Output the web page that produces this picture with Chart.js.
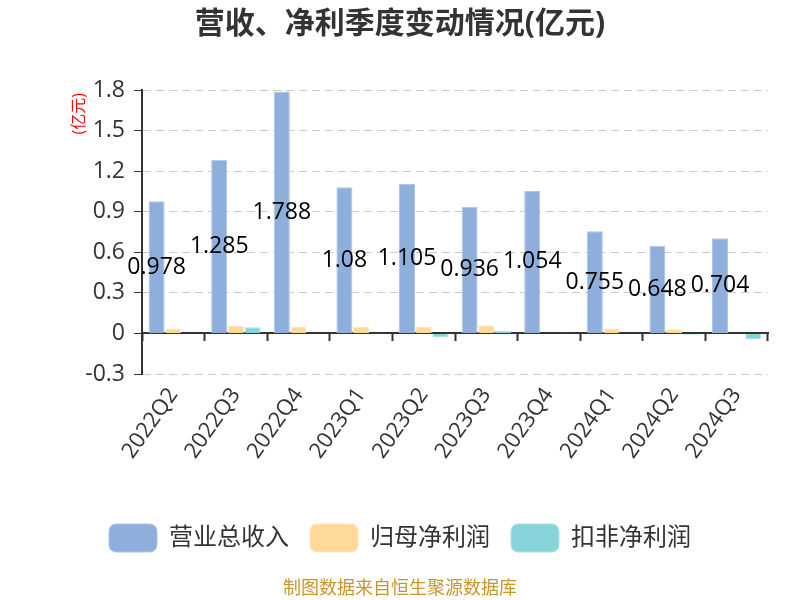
<!DOCTYPE html>
<html>
<head>
<meta charset="utf-8">
<script src="https://cdn.jsdelivr.net/npm/chart.js@4/dist/chart.umd.min.js"></script>
<style>
  html, body { margin: 0; padding: 0; background: #fff; }
  #wrap { width: 800px; height: 600px; }
</style>
</head>
<body>
<div id="wrap"><canvas id="QUARTER"></canvas></div>
<script>
var quarters = ["2022Q2", "2022Q3", "2022Q4", "2023Q1", "2023Q2", "2023Q3", "2023Q4", "2024Q1", "2024Q2", "2024Q3"];
var revenue = [0.978, 1.285, 1.788, 1.08, 1.105, 0.936, 1.054, 0.755, 0.648, 0.704];
var netProfit = [0.037, 0.058, 0.05, 0.05, 0.05, 0.06, 0.004, 0.037, 0.03, -0.005];
var deductedProfit = [-0.005, 0.045, 0.003, 0.001, -0.03, 0.02, 0.005, 0.003, -0.01, -0.045];
var yTicks = [-0.3, 0, 0.3, 0.6, 0.9, 1.2, 1.5, 1.8];

var fontFamily = "'Open Sans', 'Noto Sans CJK SC', sans-serif";

// labels in the middle of the revenue bars, plus unit + footer text
var extraText = {
    id: 'extraText',
    afterDatasetsDraw: function (chart) {
        var ctx = chart.ctx;
        var meta = chart.getDatasetMeta(0);
        ctx.save();
        ctx.font = "23px " + fontFamily;
        ctx.fillStyle = "#000";
        ctx.textAlign = "center";
        ctx.textBaseline = "middle";
        meta.data.forEach(function (bar, i) {
            ctx.fillText(String(revenue[i]), bar.x, (bar.y + bar.base) / 2);
        });
        ctx.restore();
    },
    afterDraw: function (chart) {
        var ctx = chart.ctx;
        var area = chart.chartArea;
        ctx.save();
        // unit label
        ctx.translate(area.left - 63, area.top + 3);
        ctx.rotate(-Math.PI / 2);
        ctx.font = "16px " + fontFamily;
        ctx.fillStyle = "#ff0000";
        ctx.textAlign = "right";
        ctx.textBaseline = "middle";
        ctx.fillText("(亿元)", 0, 0);
        ctx.restore();

        ctx.save();
        ctx.font = "18px " + fontFamily;
        ctx.fillStyle = "#c9962b";
        ctx.textAlign = "center";
        ctx.textBaseline = "middle";
        ctx.fillText("制图数据来自恒生聚源数据库", chart.width / 2, 589);
        ctx.restore();
    }
};

var ctxQuarter = document.getElementById('QUARTER').getContext('2d');
var quarterChart = new Chart(ctxQuarter, {
    type: 'bar',
    data: {
        labels: quarters,
        datasets: [
            {
                label: "营业总收入",
                data: revenue,
                backgroundColor: "rgb(142, 174, 220)",
                borderColor: "rgb(174, 197, 232)",
                borderWidth: 1
            },
            {
                label: "归母净利润",
                data: netProfit,
                backgroundColor: "rgb(255, 217, 153)",
                borderColor: "rgb(255, 228, 184)",
                borderWidth: 1
            },
            {
                label: "扣非净利润",
                data: deductedProfit,
                backgroundColor: "rgb(134, 212, 217)",
                borderColor: "rgb(170, 226, 230)",
                borderWidth: 1
            }
        ]
    },
    options: {
        responsive: true,
        maintainAspectRatio: false,
        animation: false,
        datasets: {
            bar: { categoryPercentage: 0.8, barPercentage: 0.96 }
        },
        layout: { padding: { left: 32, right: 32, bottom: 38 } },
        plugins: {
            title: {
                display: true,
                text: "营收、净利季度变动情况(亿元)",
                color: "#333",
                font: { family: fontFamily, size: 30, weight: 'bold' },
                padding: { top: 6, bottom: 48 }
            },
            legend: {
                position: 'bottom',
                labels: {
                    boxWidth: 48,
                    boxHeight: 28,
                    useBorderRadius: true,
                    borderRadius: 7,
                    padding: 21,
                    color: "#333",
                    font: { family: fontFamily, size: 24 }
                }
            },
            tooltip: { enabled: false }
        },
        scales: {
            x: {
                grid: { display: false, drawTicks: false },
                border: { display: false },
                ticks: {
                    color: "#333",
                    font: { family: fontFamily, size: 22 },
                    minRotation: 55,
                    maxRotation: 55,
                    padding: 9
                },
                afterFit: function (s) { s.height = 129; }
            },
            x2: {
                type: 'category',
                labels: quarters,
                position: { y: 0 },
                offset: true,
                grid: { offset: true, drawOnChartArea: false, drawTicks: true, tickLength: 7, color: "#333", tickWidth: 2 },
                border: { display: true, color: "#333", width: 2 },
                ticks: { display: false }
            },
            y: {
                min: -0.3,
                max: 1.8,
                afterBuildTicks: function (s) {
                    s.ticks = yTicks.map(function (v) { return { value: v }; });
                },
                grid: { color: "#cccccc", tickColor: "#333", tickLength: 8, tickBorderDash: [] },
                border: { display: true, color: "#333", width: 2, dash: [8, 5] },
                ticks: {
                    color: "#333",
                    font: { family: fontFamily, size: 23 },
                    padding: 9
                },
                afterFit: function (s) { s.width = 110; }
            }
        }
    },
    plugins: [extraText]
});
</script>
</body>
</html>
